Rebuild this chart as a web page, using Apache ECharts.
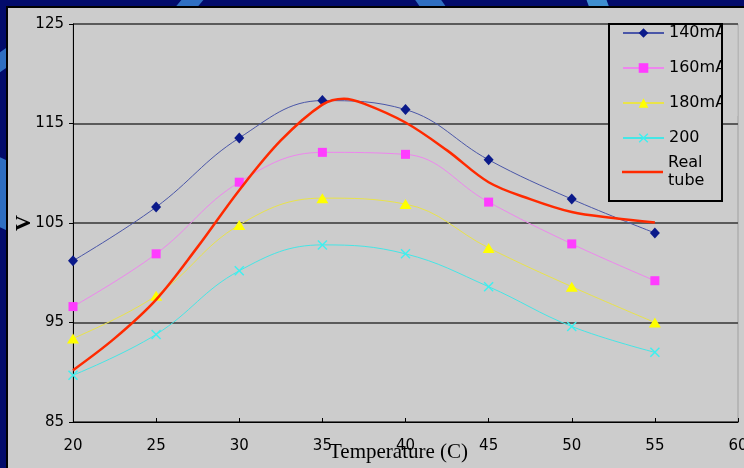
<!DOCTYPE html>
<html>
<head>
<meta charset="utf-8">
<script src="https://cdn.jsdelivr.net/npm/echarts@6/dist/echarts.min.js"></script>
<style>
  html, body { margin: 0; padding: 0; width: 744px; height: 468px; overflow: hidden; background: #020b6b; }
  .stripe { position: absolute; background: #2f6fc2; }
  #chart { position: absolute; left: 6px; top: 6px; width: 736px; height: 460px;
           border-left: 2px solid #000; border-top: 2px solid #000; background: #cccccc; }
</style>
</head>
<body>
<!-- slide backdrop swirls peeking out round the panel -->
<div class="stripe" style="left:178px;top:-6px;width:22px;height:20px;transform:skewX(-40deg);"></div>
<div class="stripe" style="left:418px;top:-6px;width:26px;height:20px;transform:skewX(35deg);"></div>
<div class="stripe" style="left:588px;top:-6px;width:20px;height:20px;transform:skewX(20deg);background:#3f8fd0;"></div>
<div class="stripe" style="left:-4px;top:48px;width:20px;height:20px;transform:skewY(-35deg);"></div>
<div class="stripe" style="left:-4px;top:160px;width:20px;height:70px;transform:skewY(25deg);"></div>
<div id="chart"></div>
<script>
// Measured tube voltage (V) against temperature (C) at several filament currents
const temperatures = [20, 25, 30, 35, 40, 45, 50, 55];
const v140mA = [101.2, 106.6, 113.55, 117.3, 116.4, 111.35, 107.4, 104.0];
const v160mA = [96.6, 101.9, 109.1, 112.1, 111.9, 107.1, 102.9, 99.2];
const v180mA = [93.4, 97.7, 104.8, 107.5, 106.9, 102.5, 98.6, 95.0];
const v200 = [89.7, 93.8, 100.2, 102.8, 101.9, 98.6, 94.6, 92.0];

// Real tube curve, sampled more densely
const tubeTemps = [20, 22.5, 25, 27.5, 30, 32.5, 35, 36.3, 37.5, 40, 42.5, 45, 47.5, 50, 52.5, 55];
const tubeVolts = [90.2, 93.4, 97.3, 102.6, 108.3, 113.3, 116.9, 117.5, 117.0, 115.1, 112.3, 109.1, 107.4, 106.1, 105.5, 105.05];

const xTicks = [20, 25, 30, 35, 40, 45, 50, 55, 60];
const yTicks = [85, 95, 105, 115, 125];

const seriesNames = ['140mA', '160mA', '180mA', '200', 'Real tube'];

const pairs = (xs, ys) => xs.map((x, i) => [x, ys[i]]);

const crossPath = 'path://M0,1L1,0L5,4L9,0L10,1L6,5L10,9L9,10L5,6L1,10L0,9L4,5Z';
const plainLineIcon = 'path://M0,0L41,0L41,2.5L0,2.5Z';

function currentSeries(name, values, lineColor, markColor, symbol, size) {
  return {
    name: name,
    type: 'line',
    data: pairs(temperatures, values),
    smooth: 0.4,
    symbol: symbol,
    symbolSize: size,
    showSymbol: true,
    lineStyle: { color: lineColor, width: 1 },
    itemStyle: { color: markColor },
    emphasis: { disabled: true },
    z: 3
  };
}

const chart = echarts.init(document.getElementById('chart'), null, { renderer: 'canvas' });

const legendText = { color: '#000', fontSize: 16, fontFamily: 'DejaVu Sans', lineHeight: 18 };

chart.setOption({
  animation: false,
  backgroundColor: 'transparent',
  grid: {
    left: 65, right: 6, top: 16, bottom: 46,
    outerBoundsMode: 'none', containLabel: false,
    show: true, borderColor: '#a0a0a0', borderWidth: 1, backgroundColor: '#cccccc'
  },
  xAxis: {
    type: 'value',
    min: xTicks[0],
    max: xTicks[xTicks.length - 1],
    interval: xTicks[1] - xTicks[0],
    name: 'Temperature (C)',
    nameLocation: 'middle',
    nameMoveOverlap: false,
    nameGap: 20,
    nameTextStyle: { fontFamily: 'Liberation Serif', fontSize: 21, color: '#000', padding: [0, 14, 0, 0] },
    axisLine: { lineStyle: { color: '#000', width: 1 } },
    axisTick: { inside: true, length: 4, lineStyle: { color: '#000' } },
    axisLabel: { color: '#000', fontSize: 15, fontFamily: 'DejaVu Sans', margin: 17 },
    splitLine: { show: false }
  },
  yAxis: {
    type: 'value',
    min: yTicks[0],
    max: yTicks[yTicks.length - 1],
    interval: yTicks[1] - yTicks[0],
    name: 'V',
    nameLocation: 'middle',
    nameMoveOverlap: false,
    nameRotate: 90,
    nameGap: 38,
    nameTextStyle: { fontFamily: 'Liberation Serif', fontSize: 22, fontWeight: 'bold', color: '#000' },
    axisLine: { show: true, lineStyle: { color: '#000', width: 1 } },
    axisTick: { show: true, inside: false, length: 4, lineStyle: { color: '#000' } },
    axisLabel: { color: '#000', fontSize: 15, fontFamily: 'DejaVu Sans', margin: 9 },
    splitLine: { show: true, lineStyle: { color: '#5a5a5a', width: 2 } }
  },
  legend: [
    {
      data: seriesNames.slice(0, 4),
      orient: 'vertical',
      left: 614,
      top: 16,
      padding: 0,
      itemGap: 17,
      itemWidth: 41,
      itemHeight: 12,
      selectedMode: false,
      textStyle: legendText,
      z: 5
    },
    {
      data: [{ name: 'Real tube', icon: plainLineIcon, textStyle: { padding: [24, 0, 0, 0] } }],
      formatter: () => 'Real\ntube',
      orient: 'vertical',
      left: 614,
      top: 134,
      padding: 0,
      itemWidth: 41,
      itemHeight: 12,
      selectedMode: false,
      textStyle: legendText,
      z: 5
    }
  ],
  graphic: [
    // legend panel fill, hiding the grid line behind it
    { type: 'rect', z: 4, silent: true, shape: { x: 601, y: 17, width: 113, height: 176 }, style: { fill: '#cccccc' } },
    // legend labels are cut off at the legend frame
    { type: 'rect', z: 20, silent: true, shape: { x: 715, y: 18, width: 14.5, height: 90 }, style: { fill: '#cccccc' } },
    // legend frame
    { type: 'rect', z: 21, silent: true, shape: { x: 601, y: 16, width: 113, height: 177 }, style: { fill: null, stroke: '#000', lineWidth: 2 } }
  ],
  series: [
    currentSeries('140mA', v140mA, '#4a56a8', '#0b1a8a', 'diamond', [10, 11]),
    currentSeries('160mA', v160mA, '#ee86ee', '#ff3cff', 'rect', 9),
    currentSeries('180mA', v180mA, '#e9e34a', '#ffff00', 'triangle', [12, 10]),
    currentSeries('200', v200, '#45e6e6', '#3cf0f0', crossPath, 10),
    {
      name: 'Real tube',
      type: 'line',
      data: pairs(tubeTemps, tubeVolts),
      smooth: 0.35,
      symbol: 'none',
      showSymbol: false,
      lineStyle: { color: '#ff2a00', width: 2.5 },
      itemStyle: { color: '#ff2a00' },
      emphasis: { disabled: true },
      z: 4
    }
  ]
});
</script>
</body>
</html>
